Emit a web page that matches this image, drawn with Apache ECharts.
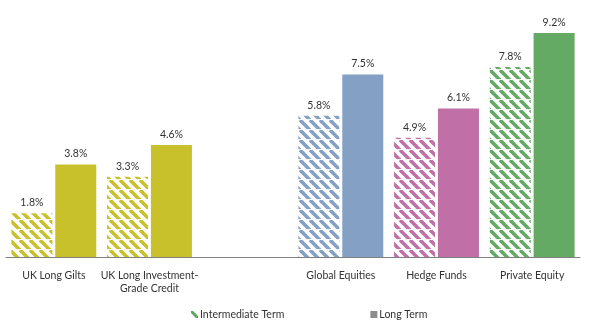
<!DOCTYPE html>
<html><head><meta charset="utf-8">
<script src="https://cdn.jsdelivr.net/npm/echarts@6/dist/echarts.min.js"></script>
<style>html,body{margin:0;padding:0;background:#fff}#c{width:594px;height:326px}</style>
</head><body><div id="c"></div>
<script>
const categories = ['UK Long Gilts', 'UK Long Investment-\nGrade Credit', '', 'Global Equities', 'Hedge Funds', 'Private Equity'];
const intermediateTerm = [1.8, 3.3, null, 5.8, 4.9, 7.8];
const longTerm = [3.8, 4.6, null, 7.5, 6.1, 9.2];
const barColors = ['#c9c12c', '#c9c12c', '#c9c12c', '#84a1c5', '#c070a7', '#64a964'];

function hatch(color) {
  const s = 10;
  const cv = document.createElement('canvas');
  cv.width = s; cv.height = s;
  const g = cv.getContext('2d');
  g.fillStyle = '#fff'; g.fillRect(0, 0, s, s);
  g.strokeStyle = color; g.lineWidth = 3.6;
  for (const o of [-s, 0, s]) {
    g.beginPath(); g.moveTo(o, 0); g.lineTo(o + s, s); g.stroke();
  }
  g.fillStyle = 'rgba(255,255,255,0.85)';
  g.fillRect(0, 9, s, 1);
  return { image: cv, repeat: 'repeat' };
}

const chart = echarts.init(document.getElementById('c'), null, { renderer: 'canvas' });
const font = 'Lato, "Open Sans", sans-serif';
const lbl = { show: true, position: 'top', distance: 5, formatter: '{c}%', color: '#333', fontSize: 10.5, fontFamily: font };

chart.setOption({
  animation: false,
  grid: { left: 6, right: 14, top: 13.5, bottom: 69 },
  legend: {
    left: 186, top: 304, itemGap: 86, itemWidth: 7, itemHeight: 7,
    textStyle: { color: '#333', fontSize: 10.5, fontFamily: font, padding: [0, 0, 0, -3] },
    data: [
      { name: 'Intermediate Term', icon: 'path://M0,0 L3,0 L10,7 L10,10 L7,10 L0,3 Z', itemStyle: { color: '#5fa55f' } },
      { name: 'Long Term', icon: 'rect', itemStyle: { color: '#8c8c8c' } }
    ]
  },
  xAxis: {
    type: 'category', data: categories,
    axisLine: { lineStyle: { color: '#808080', width: 1 } },
    axisTick: { show: false },
    axisLabel: { color: '#333', fontSize: 10.5, fontFamily: font, margin: 12, lineHeight: 13, interval: 0 }
  },
  yAxis: { type: 'value', min: 0, max: 10, show: false, splitLine: { show: false } },
  series: [
    {
      name: 'Intermediate Term', type: 'bar', barWidth: 41, barGap: '7%',
      data: intermediateTerm.map((v, i) => ({ value: v, itemStyle: { color: hatch(barColors[i]) } })),
      label: lbl
    },
    {
      name: 'Long Term', type: 'bar', barWidth: 41, barGap: '7%',
      data: longTerm.map((v, i) => ({ value: v, itemStyle: { color: barColors[i] } })),
      label: lbl
    }
  ]
});
</script></body></html>
